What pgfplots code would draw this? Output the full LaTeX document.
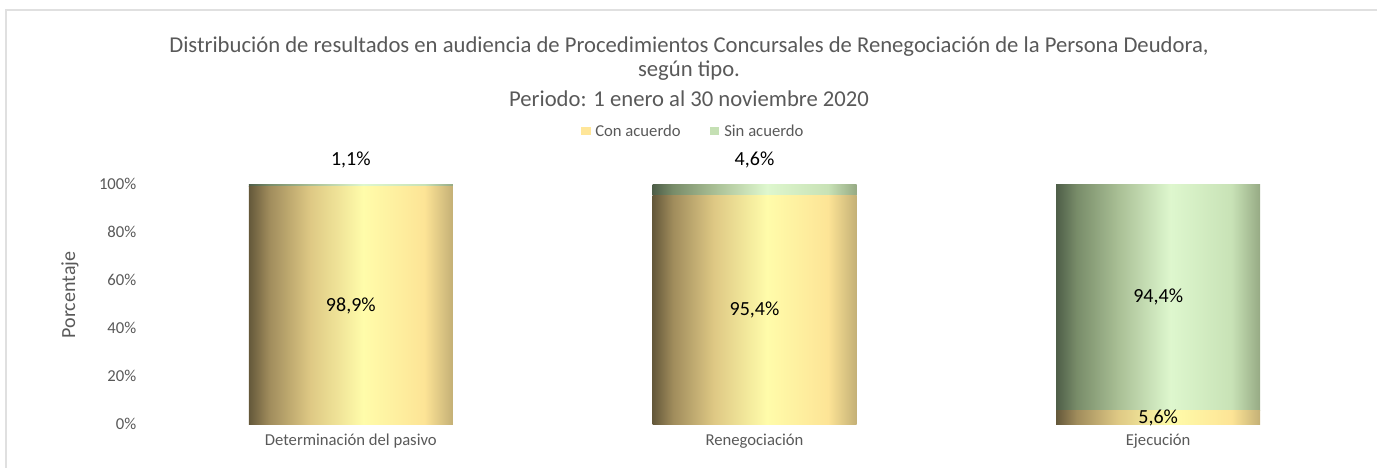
\documentclass[border=0pt]{standalone}
\usepackage{fontspec}
\setmainfont{Carlito}
\usepackage{pgfplots}
\pgfplotsset{compat=1.18}

\definecolor{txtgray}{HTML}{595959}
\definecolor{legGold}{HTML}{FFE699}
\definecolor{legGreen}{HTML}{C5E0B4}

% gold gradient (visible part is 25bp..75bp)
\definecolor{gA}{RGB}{100,88,58}
\definecolor{gB}{RGB}{160,140,92}
\definecolor{gC}{RGB}{222,200,132}
\definecolor{gD}{RGB}{255,252,170}
\definecolor{gE}{RGB}{253,228,150}
\definecolor{gF}{RGB}{196,176,118}
\pgfdeclarehorizontalshading{goldshade}{100bp}{color(0bp)=(gA); color(25bp)=(gA); color(30bp)=(gB); color(40bp)=(gC); color(53bp)=(gD); color(68bp)=(gE); color(75bp)=(gF); color(100bp)=(gF)}

% green gradient
\definecolor{nA}{RGB}{78,94,72}
\definecolor{nB}{RGB}{120,140,105}
\definecolor{nC}{RGB}{168,190,148}
\definecolor{nD}{RGB}{222,247,206}
\definecolor{nE}{RGB}{200,226,182}
\definecolor{nF}{RGB}{150,170,132}
\pgfdeclarehorizontalshading{greenshade}{100bp}{color(0bp)=(nA); color(25bp)=(nA); color(30bp)=(nB); color(40bp)=(nC); color(53bp)=(nD); color(68bp)=(nE); color(75bp)=(nF); color(100bp)=(nF)}

\tikzset{lbl/.style={font=\fontsize{15}{18}\selectfont, text=black},
         ttl/.style={font=\fontsize{17}{20}\selectfont, text=txtgray},
         leg/.style={font=\fontsize{12.5}{15}\selectfont, text=txtgray, anchor=west, inner sep=0pt}}

% one axis per bar so each segment gets its own gradient
\pgfplotsset{barbase/.style={
    scale only axis,
    width=908.25pt, height=180pt,
    ybar stacked, bar width=153pt,
    xmin=-0.5, xmax=2.5,
    ymin=0, ymax=100,
    axis line style={draw=none},
    major tick length=0pt},
  gold/.style={draw=none, shade, shading=goldshade},
  green/.style={draw=none, shade, shading=greenshade}}

\begin{document}
\begin{tikzpicture}
  \path[use as bounding box] (-111.75pt,-33pt) rectangle (921pt,318pt);
  \draw[black!12, line width=1.3pt] (-107.25pt,-33pt) -- (-107.25pt,310.5pt) -- (921pt,310.5pt);
  \begin{axis}[
      barbase,
      xtick={0,1,2},
      xticklabels={Determinación del pasivo, Renegociación, Ejecución},
      ytick={0,20,40,60,80,100},
      yticklabel={\pgfmathprintnumber{\tick}\%},
      /pgf/number format/assume math mode=true,
      ticklabel style={font=\fontsize{12.5}{15}\selectfont, text=txtgray},
      yticklabel style={xshift=-6pt},
      xticklabel style={yshift=-4pt},
      ylabel={Porcentaje},
      every axis y label/.style={at={(axis description cs:-0.0652,0.5375)}, rotate=90,
                                 anchor=center, font=\fontsize{15}{18}\selectfont, text=txtgray},
    ]
    \addplot[gold] coordinates {(0,98.9)};
    \addplot[green] coordinates {(0,1.1)};
    \coordinate (l1) at (axis cs:0,49);
    \coordinate (l5) at (axis cs:0,100);
  \end{axis}
  \begin{axis}[barbase, hide axis]
    \addplot[gold] coordinates {(1,95.4)};
    \addplot[green] coordinates {(1,4.6)};
    \coordinate (l2) at (axis cs:1,47.7);
    \coordinate (l6) at (axis cs:1,100);
  \end{axis}
  \begin{axis}[barbase, hide axis]
    \addplot[gold] coordinates {(2,5.6)};
    \addplot[green] coordinates {(2,94.4)};
    \coordinate (l3) at (axis cs:2,2.7);
    \coordinate (l4) at (axis cs:2,52.8);
  \end{axis}
  \node[lbl] at (l1) {98,9\%};
  \node[lbl] at (l2) {95,4\%};
  \node[lbl] at (l3) {5,6\%};
  \node[lbl] at (l4) {94,4\%};
  \node[lbl] at ([yshift=18pt]l5) {1,1\%};
  \node[lbl] at ([yshift=18pt]l6) {4,6\%};
  % legend
  \fill[legGold] (324pt,216.75pt) rectangle (331.5pt,222.75pt);
  \node[leg] at (334.5pt,219.75pt) {Con acuerdo};
  \fill[legGreen] (420.75pt,216.75pt) rectangle (427.5pt,222.75pt);
  \node[leg] at (431.25pt,219.75pt) {Sin acuerdo};
  % title
  \node[ttl] at (405pt,282.75pt) {Distribución de resultados en audiencia de Procedimientos Concursales de Renegociación de la Persona Deudora,};
  \node[ttl] at (405pt,264.75pt) {según tipo.};
  \node[ttl] at (405pt,243.75pt) {Periodo: 1 enero al 30 noviembre 2020};
\end{tikzpicture}
\end{document}
